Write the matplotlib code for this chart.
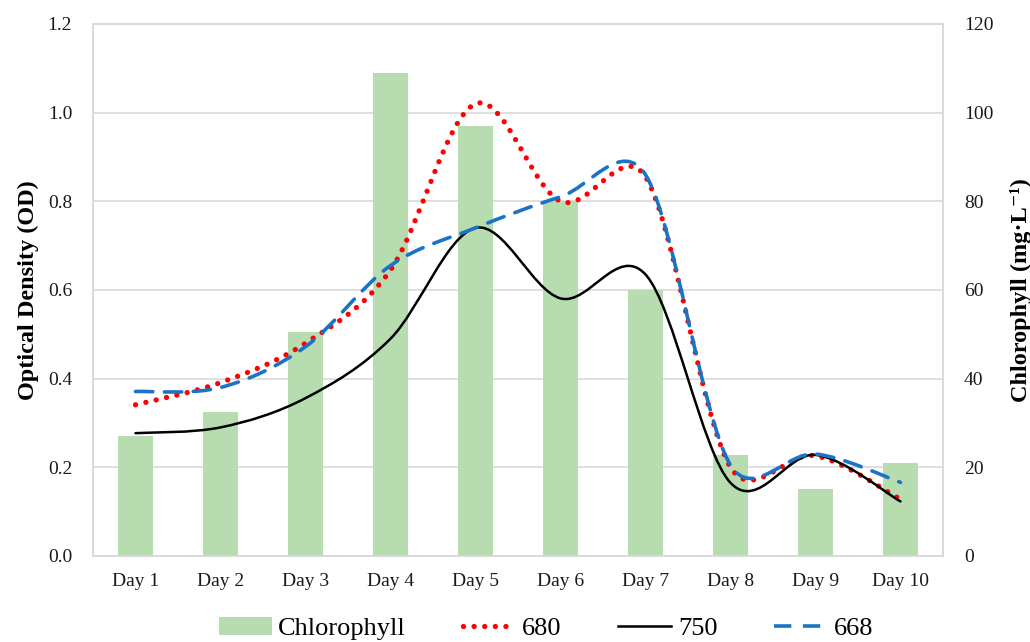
import numpy as np
import matplotlib
matplotlib.use("Agg")
from matplotlib import pyplot as plt
from matplotlib.path import Path
from matplotlib.patches import PathPatch, Patch
from matplotlib.lines import Line2D

days = ["Day 1", "Day 2", "Day 3", "Day 4", "Day 5",
        "Day 6", "Day 7", "Day 8", "Day 9", "Day 10"]
chlorophyll = [27, 32.5, 50.5, 109, 97, 80, 60, 22.8, 15, 20.9]
od_680 = [0.341, 0.391, 0.48, 0.645, 1.02, 0.80, 0.855, 0.20, 0.226, 0.128]
od_750 = [0.277, 0.29, 0.356, 0.49, 0.74, 0.581, 0.635, 0.165, 0.228, 0.123]
od_668 = [0.371, 0.38, 0.472, 0.655, 0.74, 0.81, 0.86, 0.205, 0.23, 0.166]

plt.rcParams['font.family'] = ['Liberation Serif', 'DejaVu Serif']


def smooth_path(x, y, sx=85.0, sy=443.0):
    # excel style smoothed line: tangent/6 handles, capped at half the segment
    p = np.column_stack([np.asarray(x) * sx, np.asarray(y) * sy]).astype(float)
    n = len(p)
    verts = [p[0]]
    codes = [Path.MOVETO]
    for i in range(n - 1):
        seg = np.hypot(*(p[i + 1] - p[i]))
        t0 = p[i + 1] - (p[i - 1] if i > 0 else p[i])
        t1 = (p[i + 2] if i + 2 < n else p[i + 1]) - p[i]
        h0 = t0 / 6
        h1 = t1 / 6
        if np.hypot(*h0) > seg / 2:
            h0 = h0 * (seg / 2) / np.hypot(*h0)
        if np.hypot(*h1) > seg / 2:
            h1 = h1 * (seg / 2) / np.hypot(*h1)
        verts += [p[i] + h0, p[i + 1] - h1, p[i + 1]]
        codes += [Path.CURVE4] * 3
    verts = np.array(verts) / [sx, sy]
    return Path(verts, codes)


x = np.arange(len(days))
fig = plt.figure(figsize=(10.3, 6.42), dpi=100)
ax2 = fig.add_axes([0.0903, 0.134, 0.8252, 0.8287])
ax = ax2.twinx()
ax.set_zorder(ax2.get_zorder() + 1)
ax.patch.set_visible(False)

bar_color = '#b6dcb0'
ax2.bar(x, chlorophyll, width=0.42, color=bar_color, zorder=2)
ax2.set_ylim(0, 120)
ax2.set_yticks(range(0, 121, 20))
ax2.yaxis.grid(True, color='#d9d9d9', linewidth=1.2, zorder=0)
ax2.set_axisbelow(True)
ax2.yaxis.tick_right()
ax2.yaxis.set_label_position('right')

ax.yaxis.tick_left()
ax.yaxis.set_label_position('left')
ax.set_ylim(0, 1.2)
ax.set_yticks(np.arange(0, 1.21, 0.2))
ax.set_yticklabels(['%.1f' % v for v in np.arange(0, 1.21, 0.2)])
ax.set_xlim(-0.5, 9.5)
ax2.set_xlim(-0.5, 9.5)
ax2.set_xticks(x)
ax2.set_xticklabels(days)

red_st = dict(color='#ff0000', linewidth=3.8, linestyle=(0, (0.01, 2.0)))
blk_st = dict(color='black', linewidth=1.8, linestyle='-')
blu_st = dict(color='#1a73c4', linewidth=2.6, linestyle=(0, (4.8, 3.2)))

for vals, st in [(od_680, red_st), (od_750, blk_st), (od_668, blu_st)]:
    ax.add_patch(PathPatch(smooth_path(x, vals), fill=False, zorder=3,
                           edgecolor=st['color'], linewidth=st['linewidth'],
                           linestyle=st['linestyle'], capstyle='round'))

for a in (ax, ax2):
    for s in a.spines.values():
        s.set_color('#d9d9d9')
        s.set_linewidth(1.2)
    a.tick_params(length=0, labelsize=14, colors='#1a1a1a')
ax2.tick_params(axis='x', pad=12)
ax.tick_params(axis='y', pad=15)
ax2.tick_params(axis='y', pad=15)

ax.set_ylabel('Optical Density (OD)', fontsize=17.5, fontweight='bold', labelpad=6)
ax2.set_ylabel('Chlorophyll (mg·L⁻¹)', fontsize=17.5, fontweight='bold', labelpad=12)

handles = [
    Patch(facecolor=bar_color, edgecolor='none'),
    Line2D([], [], dash_capstyle='round', **red_st),
    Line2D([], [], **blk_st),
    Line2D([], [], **blu_st),
]
fig.legend(handles, ['Chlorophyll', '680', '750', '668'], loc='center',
           bbox_to_anchor=(0.530, 0.021), ncol=4, frameon=False, handlelength=2.0,
           handletextpad=0.25, columnspacing=2.15, prop={'size': 19})

fig.savefig('out.png', dpi=100)
